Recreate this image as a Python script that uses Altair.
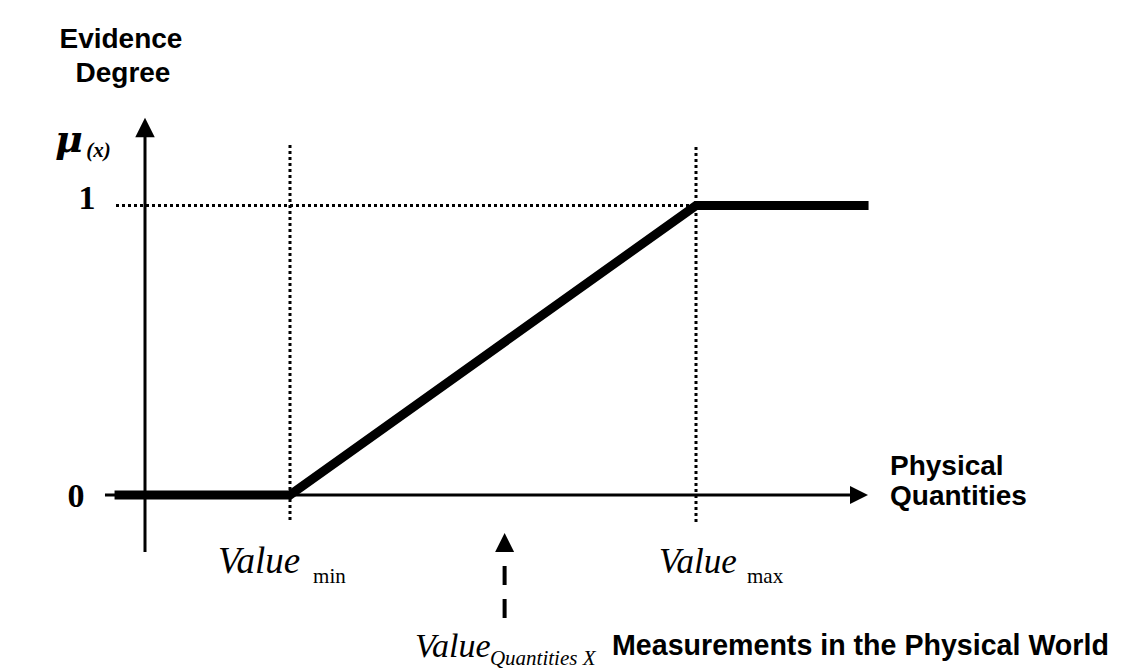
import altair as alt
import pandas as pd

# ---------------- data (diagram units: x = physical quantity, mu = evidence degree)
VALUE_MIN = 1.0
VALUE_MAX = 3.8
X_MEASURED = 2.48
curve_x = [-0.21, VALUE_MIN, VALUE_MAX, 4.99]
curve_mu = [0.0, 0.0, 1.0, 1.0]
tick_labels = ["1", "0"]
tick_mu = [1.0, 0.0]

# ---------------- layout (view size and pixel scale of the diagram units)
W, H = 1110, 661
PX_X, PX_MU = 145.0, 289.5
OX, OY = 137.0, 487.0  # view pixel of the origin
x_dom = [-OX / PX_X, (W - OX) / PX_X]
y_dom = [-(H - OY) / PX_MU, OY / PX_MU]

X = lambda f="x": alt.X(f"{f}:Q", scale=alt.Scale(domain=x_dom, nice=False, zero=False), axis=None)
Y = lambda f="y": alt.Y(f"{f}:Q", scale=alt.Scale(domain=y_dom, nice=False, zero=False), axis=None)

# dotted guide lines
guides = pd.DataFrame({
    "x": [-0.2, VALUE_MIN, VALUE_MAX],
    "x2": [VALUE_MAX, VALUE_MIN, VALUE_MAX],
    "y": [1.0, 1.209, 1.202],
    "y2": [1.0, -0.093, -0.104],
})
guide_layer = alt.Chart(guides).mark_rule(
    color="black", strokeWidth=3, strokeDash=[3, 3]
).encode(x=X(), x2="x2:Q", y=Y(), y2="y2:Q")

# axes
axes = pd.DataFrame({
    "x": [-0.276, 0.0],
    "x2": [4.862, 0.0],
    "y": [0.0, -0.197],
    "y2": [0.0, 1.2366],
})
axis_layer = alt.Chart(axes).mark_rule(color="black", strokeWidth=3).encode(
    x=X(), x2="x2:Q", y=Y(), y2="y2:Q"
)

# arrow heads
heads_right = pd.DataFrame({"x": [4.924], "y": [0.0]})
heads_up = pd.DataFrame({"x": [0.0, X_MEASURED], "y": [1.2694, -0.1641], "s": [380, 361]})
right_layer = alt.Chart(heads_right).mark_point(
    shape="M-1,-1L1,0L-1,1Z", filled=True, color="black", opacity=1, size=324, strokeWidth=0
).encode(x=X(), y=Y())
up_layer = alt.Chart(heads_up).mark_point(
    shape="M-1,1L0,-1L1,1Z", filled=True, color="black", opacity=1, strokeWidth=0
).encode(x=X(), y=Y(), size=alt.Size("s:Q", scale=None, legend=None))

# dashed measurement shaft
shaft = pd.DataFrame({"x": [X_MEASURED], "y": [-0.2453], "y2": [-0.4283]})
shaft_layer = alt.Chart(shaft).mark_rule(
    color="black", strokeWidth=4, strokeDash=[19, 14]
).encode(x=X(), y=Y(), y2="y2:Q")

# membership function
curve = pd.DataFrame({"x": curve_x, "y": curve_mu, "i": list(range(len(curve_x)))})
curve_layer = alt.Chart(curve).mark_line(
    color="black", strokeWidth=9, strokeJoin="miter", strokeCap="butt"
).encode(x=X(), y=Y(), order="i:Q")

# ---------------- text
def text_layer(df, **kw):
    return alt.Chart(pd.DataFrame(df)).mark_text(color="black", baseline="alphabetic", **kw).encode(
        x=X(), y=Y(), text="t:N", size=alt.Size("s:Q", scale=None, legend=None)
    )

sans_c = text_layer(
    {"t": ["Evidence", "Degree"], "x": [-0.166, -0.152], "y": [1.544, 1.427], "s": [28, 28]},
    align="center", font="Liberation Sans", fontWeight="bold",
)
sans_l = text_layer(
    {"t": ["Physical", "Quantities", "Measurements in the Physical World"],
     "x": [5.138, 5.138, 3.221], "y": [0.069, -0.035, -0.553], "s": [28, 28, 28.6]},
    align="left", font="Liberation Sans", fontWeight="bold",
)
ticks = text_layer(
    {"t": tick_labels, "x": [-0.40, -0.476], "y": [m - 0.012 if m == 1 else m - 0.041 for m in tick_mu], "s": [34, 34]},
    align="center", font="Liberation Serif", fontWeight="bold",
)
mu_sym = text_layer(
    {"t": ["μ"], "x": [-0.62], "y": [1.185], "s": [38]},
    align="left", font="DejaVu Serif", fontWeight="bold", fontStyle="italic",
)
mu_arg = text_layer(
    {"t": ["(x)"], "x": [-0.405], "y": [1.168], "s": [21]},
    align="left", font="Liberation Serif", fontWeight="bold", fontStyle="italic",
)
val_it = text_layer(
    {"t": ["Value", "Value", "Value", "Quantities X"],
     "x": [0.503, 3.545, 1.862, 2.379], "y": [-0.269, -0.269, -0.560, -0.587], "s": [37, 35, 34, 21]},
    align="left", font="Liberation Serif", fontStyle="italic",
)
val_sub = text_layer(
    {"t": ["min", "max"], "x": [1.159, 4.152], "y": [-0.304, -0.304], "s": [21, 21]},
    align="left", font="Liberation Serif",
)

chart = alt.layer(
    guide_layer, axis_layer, shaft_layer, right_layer, up_layer, curve_layer,
    sans_c, sans_l, ticks, mu_sym, mu_arg, val_it, val_sub,
).properties(
    width=W, height=H, padding=0, autosize=alt.AutoSizeParams(type="none"), background="white"
).configure_view(stroke=None)

chart.save("out.html", embed_options={"renderer": "svg", "actions": False})
